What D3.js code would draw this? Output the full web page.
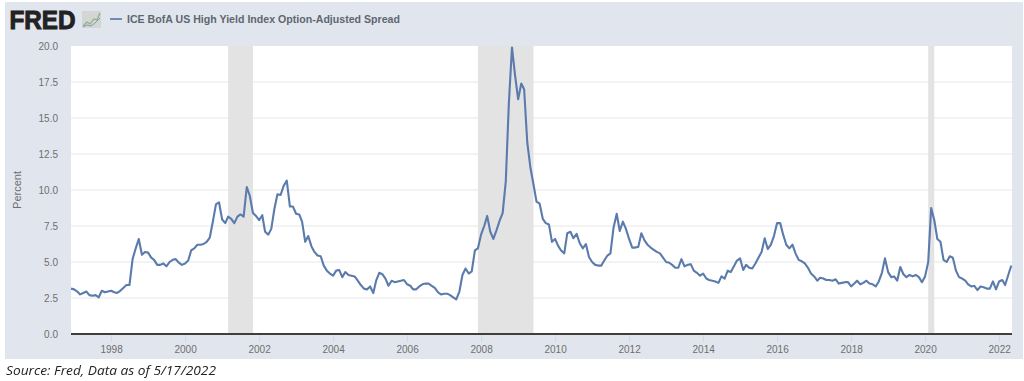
<!DOCTYPE html>
<html>
<head>
<meta charset="utf-8">
<style>
    html, body { margin: 0; padding: 0; background: #fff; }
    svg { display: block; }
    #chart { filter: blur(0.55px); }
    text { font-family: "Liberation Sans", Arial, sans-serif; }
</style>
</head>
<body>
<svg id="map"></svg>
<script src="https://cdn.jsdelivr.net/npm/d3@7"></script>
<script>
    var seriesName = "ICE BofA US High Yield Index Option-Adjusted Spread";
    var yAxisTitle = "Percent";
    var sourceNote = "Source: Fred, Data as of 5/17/2022";
    var firstMonth = "1996-12-01";
    var yTicks = [0, 2.5, 5, 7.5, 10, 12.5, 15, 17.5, 20];
    var xTickYears = [1998, 2000, 2002, 2004, 2006, 2008, 2010, 2012, 2014, 2016, 2018, 2020, 2022];
    var recessions = [["2001-03-01", "2001-11-01"], ["2007-12-01", "2009-06-01"], ["2020-02-01", "2020-04-01"]];

    // one row a year, month end readings, first row starts with Dec 1996
    var spread = [
        3.15,
        3.1, 2.95, 2.75, 2.85, 2.95, 2.7, 2.65, 2.7, 2.55, 3.0, 2.9, 2.95,
        3.0, 2.9, 2.85, 3.0, 3.2, 3.4, 3.4, 5.2, 5.95, 6.6, 5.5, 5.7,
        5.65, 5.3, 5.15, 4.8, 4.8, 4.9, 4.7, 5.0, 5.15, 5.2, 4.95, 4.8,
        4.9, 5.1, 5.8, 5.95, 6.2, 6.2, 6.25, 6.4, 6.7, 7.8, 9.0, 9.15,
        7.95, 7.7, 8.15, 8.0, 7.7, 8.15, 8.3, 8.15, 10.2, 9.6, 8.4, 8.2,
        7.9, 8.25, 7.1, 6.9, 7.3, 8.7, 9.7, 9.65, 10.3, 10.65, 8.85, 8.85,
        8.35, 8.3, 7.8, 6.4, 6.8, 6.1, 5.7, 5.45, 5.4, 4.75, 4.4, 4.2,
        4.05, 4.4, 4.45, 3.95, 4.3, 4.1, 4.05, 4.0, 3.7, 3.4, 3.15, 3.1,
        3.3, 2.85, 3.7, 4.25, 4.15, 3.85, 3.35, 3.7, 3.6, 3.65, 3.7, 3.75,
        3.45, 3.35, 3.1, 3.1, 3.3, 3.45, 3.5, 3.5, 3.35, 3.2, 2.9, 2.75,
        2.8, 2.8, 2.7, 2.55, 2.4, 2.95, 4.1, 4.55, 4.2, 4.35, 5.8, 5.95,
        6.9, 7.5, 8.2, 7.1, 6.6, 7.2, 7.85, 8.4, 10.6, 16.0, 19.9, 18.0,
        16.3, 17.4, 17.0, 13.3, 11.6, 10.4, 9.2, 9.05, 8.0, 7.7, 7.6, 6.4,
        6.6, 6.1, 5.8, 5.6, 7.0, 7.1, 6.65, 6.95, 6.3, 5.95, 6.25, 5.35,
        5.0, 4.8, 4.75, 4.75, 5.1, 5.45, 5.6, 7.4, 8.35, 7.15, 7.8, 7.3,
        6.6, 6.0, 6.0, 6.05, 7.0, 6.5, 6.2, 6.0, 5.85, 5.7, 5.6, 5.3,
        5.0, 4.95, 4.8, 4.6, 4.6, 5.2, 4.7, 4.8, 4.85, 4.4, 4.25, 4.05,
        4.2, 3.85, 3.75, 3.7, 3.65, 3.55, 4.0, 3.85, 4.4, 4.3, 4.7, 5.1,
        5.25, 4.45, 4.8, 4.6, 4.55, 4.9, 5.3, 5.7, 6.65, 5.9, 6.2, 6.8,
        7.7, 7.7, 6.9, 6.2, 5.95, 6.2, 5.6, 5.15, 5.05, 4.9, 4.6, 4.2,
        4.0, 3.7, 3.9, 3.85, 3.75, 3.75, 3.7, 3.8, 3.5, 3.55, 3.6, 3.6,
        3.3, 3.5, 3.7, 3.45, 3.55, 3.7, 3.5, 3.45, 3.3, 3.65, 4.25, 5.25,
        4.3, 3.95, 4.0, 3.7, 4.65, 4.15, 3.95, 4.1, 4.0, 4.1, 3.95, 3.6,
        4.0, 5.0, 8.75, 7.9, 6.6, 6.4, 5.15, 5.0, 5.4, 5.3, 4.4, 3.95,
        3.85, 3.7, 3.45, 3.3, 3.35, 3.05, 3.3, 3.25, 3.15, 3.15, 3.65, 3.1,
        3.65, 3.75, 3.4, 4.1, 4.75
    ];

    var pageWidth = 1024;
    var pageHeight = 381;
    var plotLeft = 71;
    var plotRight = 1012;
    var plotTop = 46;
    var plotBottom = 334;

    var parseDay = d3.utcParse("%Y-%m-%d");
    var start = parseDay(firstMonth);
    var points = spread.map((v, i) => ({date: d3.utcMonth.offset(start, i), value: v}));

    let svg = d3.select("#map").attr("width", pageWidth).attr("height", pageHeight);
    let chart = svg.append("g").attr("id", "chart");

    var x = d3.scaleUtc()
        .domain([parseDay("1996-12-01"), parseDay("2022-05-08")])
        .range([plotLeft, plotRight]);
    var y = d3.scaleLinear().domain([0, 20]).range([plotBottom, plotTop]);

    chart.append("rect")
        .attr("x", 5).attr("y", 2).attr("width", 1018).attr("height", 357)
        .attr("fill", "#e1e6ee");
    chart.append("rect")
        .attr("x", plotLeft).attr("y", plotTop)
        .attr("width", plotRight - plotLeft).attr("height", plotBottom - plotTop)
        .attr("fill", "#fff");

    // grid
    chart.append("g").selectAll("line")
        .data(yTicks.filter(d => d > 0 && d < 20))
        .enter()
        .append("line")
        .attr("x1", plotLeft).attr("x2", plotRight)
        .attr("y1", d => y(d)).attr("y2", d => y(d))
        .attr("stroke", "#efefef")
        .attr("stroke-width", 1.5);

    // recession bands
    chart.append("g").selectAll("rect")
        .data(recessions)
        .enter()
        .append("rect")
        .attr("x", d => x(parseDay(d[0])))
        .attr("width", d => x(parseDay(d[1])) - x(parseDay(d[0])))
        .attr("y", plotTop)
        .attr("height", plotBottom - plotTop)
        .attr("fill", "#e3e3e3");

    // y axis
    let yAxis = chart.append("g")
        .attr("transform", "translate(" + plotLeft + ",0)")
        .call(d3.axisLeft(y).tickValues(yTicks).tickSize(0).tickPadding(13).tickFormat(d3.format(".1f")));
    yAxis.select(".domain").remove();
    yAxis.selectAll("text")
        .attr("font-size", 10)
        .attr("font-family", "Liberation Sans")
        .attr("fill", "#6e6e6e");

    // x axis
    let xAxis = chart.append("g")
        .attr("transform", "translate(0," + plotBottom + ")")
        .call(d3.axisBottom(x)
            .tickValues(xTickYears.map(d => new Date(Date.UTC(d, 0, 1))))
            .tickSize(8)
            .tickPadding(4)
            .tickFormat(d3.utcFormat("%Y")));
    xAxis.select(".domain").remove();
    xAxis.selectAll("line").attr("stroke", "#d3d8e0");
    xAxis.selectAll("text")
        .attr("font-size", 10)
        .attr("font-family", "Liberation Sans")
        .attr("fill", "#6e6e6e");

    chart.append("line")
        .attr("x1", plotLeft).attr("x2", plotRight)
        .attr("y1", plotBottom).attr("y2", plotBottom)
        .attr("stroke", "#3f3f3f")
        .attr("stroke-width", 2);

    // series
    var line = d3.line().x(d => x(d.date)).y(d => y(d.value));
    chart.append("path")
        .datum(points)
        .attr("d", line)
        .attr("fill", "none")
        .attr("stroke", "#5b7bad")
        .attr("stroke-width", 2.1)
        .attr("stroke-linejoin", "round");

    // header
    chart.append("text")
        .attr("x", 9.5).attr("y", 29)
        .attr("font-size", 25.5)
        .attr("font-weight", 700)
        .attr("textLength", 66)
        .attr("lengthAdjust", "spacingAndGlyphs")
        .attr("fill", "#222")
        .attr("stroke", "#222")
        .attr("stroke-width", 1)
        .text("FRED");

    let icon = chart.append("g").attr("transform", "translate(82,11)");
    icon.append("rect").attr("width", 19).attr("height", 17).attr("fill", "#d4d6d4");
    icon.append("path").attr("d", "M1,15 L5,11 L8,13 L12,8 L15,9 L18,2")
        .attr("fill", "none").attr("stroke", "#8fae7e").attr("stroke-width", 1.2);
    icon.append("path").attr("d", "M1,16 L5,14 L9,15 L13,12 L18,7")
        .attr("fill", "none").attr("stroke", "#7f9bb8").attr("stroke-width", 1);

    chart.append("line")
        .attr("x1", 110).attr("x2", 122).attr("y1", 19).attr("y2", 19)
        .attr("stroke", "#5b7bad").attr("stroke-width", 1.7);
    chart.append("text")
        .attr("x", 127).attr("y", 23)
        .attr("font-size", 11)
        .attr("font-weight", 700)
        .attr("textLength", 273)
        .attr("lengthAdjust", "spacingAndGlyphs")
        .attr("fill", "#5f6670")
        .text(seriesName);

    chart.append("text")
        .attr("transform", "translate(21,190) rotate(-90)")
        .attr("text-anchor", "middle")
        .attr("font-size", 11)
        .attr("fill", "#6e6e6e")
        .text(yAxisTitle);

    chart.append("text")
        .attr("x", 6).attr("y", 375)
        .attr("font-size", 13.5)
        .attr("font-style", "italic")
        .attr("textLength", 210)
        .attr("lengthAdjust", "spacingAndGlyphs")
        .style("font-family", "'Open Sans', sans-serif")
        .attr("fill", "#222")
        .text(sourceNote);
</script>
</body>
</html>
